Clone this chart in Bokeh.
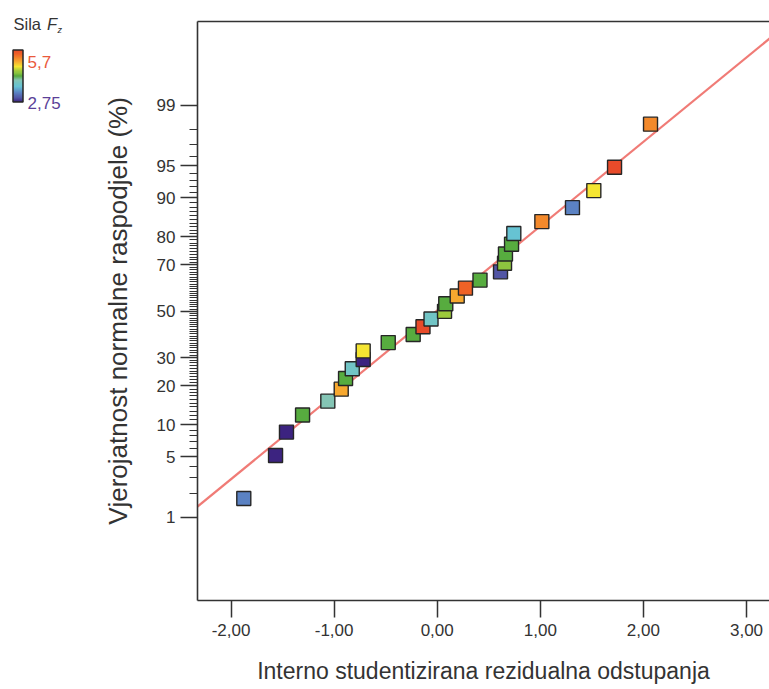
from statistics import NormalDist
from bokeh.plotting import figure
from bokeh.models import (Range1d, LinearAxis, FixedTicker, LinearColorMapper, ColumnDataSource,
                          ColorBar)
from bokeh.embed import file_html
from bokeh.resources import INLINE

# ---------------- data ----------------
residuals = [-1.876, -1.568, -1.462, -1.306, -1.061, -0.931, -0.889, -0.824, -0.718, -0.718,
             -0.475, -0.233, -0.138, -0.060, 0.071, 0.083, 0.194, 0.274, 0.415, 0.614,
             0.653, 0.662, 0.721, 0.743, 1.015, 1.312, 1.519, 1.720, 2.069]
probability_pct = [1.72, 5.17, 8.62, 12.07, 15.52, 18.97, 22.41, 25.86, 29.31, 32.76,
                   36.21, 39.66, 43.10, 46.55, 50.00, 53.45, 56.90, 60.34, 63.79, 67.24,
                   70.69, 74.14, 77.59, 81.03, 84.48, 87.93, 91.38, 94.83, 98.28]
sila_fz = [3.28, 2.75, 2.75, 4.22, 3.99, 5.05, 4.22, 3.81, 2.75, 4.76,
           4.22, 4.22, 5.70, 3.81, 4.52, 4.22, 5.05, 5.46, 4.22, 2.99,
           4.40, 4.22, 4.22, 3.64, 5.23, 3.28, 4.76, 5.70, 5.23]
fit_intercept = 0.01   # probit units
fit_slope = 0.953      # probit units per residual unit
fz_low, fz_high = 2.75, 5.7
fz_low_label, fz_high_label = "2,75", "5,7"

y_major_pct = [1, 5, 10, 20, 30, 50, 70, 80, 90, 95, 99]
y_minor_pct = [v for v in range(2, 99) if v not in y_major_pct]
x_ticks = [-2, -1, 0, 1, 2, 3]
x_tick_labels = ["-2,00", "-1,00", "0,00", "1,00", "2,00", "3,00"]

x_title = "Interno studentizirana rezidualna odstupanja"
y_title = "Vjerojatnost normalne raspodjele (%)"

# ---------------- styling ----------------
FONT = "Liberation Sans"
AX = "#333333"
stops = [(0.00, "#3c2380"), (0.08, "#5256a6"), (0.18, "#5b84c4"), (0.30, "#66c3d4"),
         (0.36, "#72c4c4"), (0.42, "#84c5b5"), (0.50, "#56ab3c"), (0.56, "#8dc53f"),
         (0.60, "#9dc93c"), (0.68, "#f5e632"), (0.78, "#f7a82f"), (0.84, "#f38b2b"),
         (0.92, "#ef6226"), (1.00, "#e84b2a")]


def hex2rgb(h):
    return [int(h[i:i + 2], 16) for i in (1, 3, 5)]


palette = []
for k in range(256):
    f = k / 255
    for (f0, c0), (f1, c1) in zip(stops[:-1], stops[1:]):
        if f0 <= f <= f1:
            t = (f - f0) / (f1 - f0) if f1 > f0 else 0
            a, b = hex2rgb(c0), hex2rgb(c1)
            rgb = [round(a[i] + (b[i] - a[i]) * t) for i in range(3)]
            palette.append("#%02x%02x%02x" % tuple(rgb))
            break

mapper = LinearColorMapper(palette=palette, low=fz_low, high=fz_high)
nd = NormalDist()


def probit(pct):
    return round(nd.inv_cdf(pct / 100.0), 6)


src = ColumnDataSource(dict(res=residuals, z=[probit(v) for v in probability_pct],
                            pct=probability_pct, fz=sila_fz))

W, H = 769, 689
BL, BT, BB = 197, 21, 89          # borders: left, top, bottom (px)
x_lo, x_hi = -2.325, 3.223
z_lo, z_hi = -3.267, 3.275

p = figure(width=W, height=H, output_backend="svg", toolbar_location=None,
           x_range=Range1d(x_lo, x_hi), y_range=Range1d(z_lo, z_hi),
           x_axis_type=None, y_axis_type=None,
           min_border_left=BL, min_border_right=0, min_border_top=BT, min_border_bottom=BB)
p.outline_line_color = None
p.background_fill_color = "white"

# fit line (probit units)
line_x = [x_lo - 0.5, x_hi + 0.5]
p.line(x=line_x, y=[fit_intercept + fit_slope * v for v in line_x],
       line_color="#f07b76", line_width=2.2)

p.scatter("res", "z", source=src, marker="square", size=14,
          fill_color={"field": "fz", "transform": mapper},
          line_color="#262626", line_width=1.4)

# x axis
xa = LinearAxis(ticker=FixedTicker(ticks=x_ticks),
                major_label_overrides={float(t): l for t, l in zip(x_ticks, x_tick_labels)})
xa.axis_label = x_title
# y axis (probability scale)
major_z = [probit(v) for v in y_major_pct]
ya = LinearAxis(ticker=FixedTicker(ticks=major_z, minor_ticks=[probit(v) for v in y_minor_pct]),
                major_label_overrides={z: str(v) for z, v in zip(major_z, y_major_pct)})
ya.axis_label = y_title

for ax in (xa, ya):
    ax.axis_line_color = AX
    ax.axis_line_width = 1.6
    ax.major_tick_line_color = AX
    ax.major_tick_line_width = 1.5
    ax.major_tick_in = 0
    ax.major_tick_out = 17
    ax.minor_tick_line_color = AX
    ax.minor_tick_line_width = 1.0
    ax.minor_tick_in = 0
    ax.minor_tick_out = 8
    ax.major_label_text_font = FONT
    ax.major_label_text_font_size = "17px"
    ax.major_label_text_color = AX
    ax.axis_label_text_font = FONT
    ax.axis_label_text_font_style = "normal"
    ax.axis_label_text_color = AX

xa.major_label_standoff = 6
xa.axis_label_standoff = 19
xa.axis_label_text_font_size = "23px"
ya.major_label_standoff = 5
ya.axis_label_standoff = 21
ya.axis_label_text_font_size = "26px"

top = LinearAxis(ticker=FixedTicker(ticks=[]), axis_line_color=AX, axis_line_width=1.6,
                 major_tick_out=0, major_tick_in=0, minor_tick_out=0, minor_tick_in=0,
                 major_label_standoff=0)

p.add_layout(xa, "below")
p.add_layout(ya, "left")
p.add_layout(top, "above")

# ---------------- colour key (top-left, outside the frame) ----------------
# ColorBar locations are given relative to the frame's bottom-left corner.
FRAME_BOTTOM = H - BB


def key_bar(left, bottom, width, height, orientation="vertical"):
    return ColorBar(color_mapper=mapper, location=(left - BL, FRAME_BOTTOM - bottom),
                    orientation=orientation, width=width, height=height, padding=0, margin=0,
                    ticker=FixedTicker(ticks=[]), major_tick_line_color=None,
                    minor_tick_line_color=None, major_label_text_font_size="0px",
                    label_standoff=0, border_line_color=None, background_fill_color=None)


cb = key_bar(12.5, 101.5, 10, 52)
cb.bar_line_color = "#262626"
cb.bar_line_width = 1.5
p.add_layout(cb, "center")


def key_text(px, baseline, text, size, color, style="normal"):
    # a colour bar used only as a text carrier: its gradient is fully transparent
    s = float(size.rstrip("px"))
    t = key_bar(px, baseline + 0.22 * s + 1, 1, 1, orientation="horizontal")
    t.title = text
    t.title_text_font = FONT
    t.title_text_font_size = size
    t.title_text_color = color
    t.title_text_font_style = style
    t.title_standoff = 0
    t.scale_alpha = 0
    t.bar_line_color = None
    p.add_layout(t, "center")


key_text(13, 28.5, "Sila", "16.5px", "#333333")
key_text(46.5, 28.5, "F", "16.5px", "#333333", "italic")
key_text(57, 32.5, "z", "9px", "#333333", "italic")
key_text(27, 64, fz_high_label, "17px", "#ea5a3c")
key_text(27, 104.5, fz_low_label, "17px", "#5b3f98")

open("out.html", "w").write(file_html(p, INLINE))
